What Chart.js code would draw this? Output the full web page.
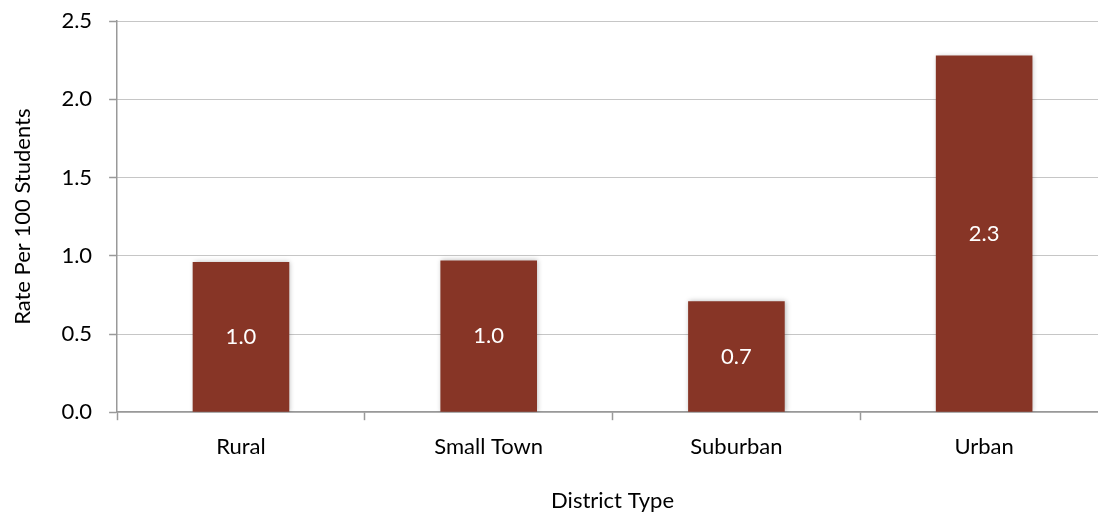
<!DOCTYPE html>
<html>
<head>
<meta charset="utf-8">
<script src="https://cdn.jsdelivr.net/npm/chart.js@4/dist/chart.umd.min.js"></script>
<style>
  html, body { margin: 0; padding: 0; background: #fff; overflow: hidden; }
  #wrap { width: 1110px; height: 525px; margin-top: -9px; }
</style>
</head>
<body>
<div id="wrap"><canvas id="chart"></canvas></div>
<script>
const districtTypes = ['Rural', 'Small Town', 'Suburban', 'Urban'];
const ratePer100 = [0.96, 0.97, 0.71, 2.28];
const yTicks = [0, 0.5, 1.0, 1.5, 2.0, 2.5];

const FONT = 'Lato, "Open Sans", sans-serif';
const FONT_SIZE = 22;
const barColor = '#873526';
const axisGrey = '#999999';

// bar shadow + value labels inside the bars
const barExtras = {
    id: 'barExtras',
    beforeDatasetsDraw(chart) {
        const c = chart.ctx;
        c.save();
        c.shadowColor = 'rgba(0,0,0,0.28)';
        c.shadowBlur = 5;
        c.shadowOffsetX = 1;
        c.shadowOffsetY = 0;
    },
    afterDatasetsDraw(chart) {
        const c = chart.ctx;
        c.restore();
        const meta = chart.getDatasetMeta(0);
        c.save();
        c.fillStyle = '#ffffff';
        c.font = FONT_SIZE + 'px ' + FONT;
        c.textAlign = 'center';
        c.textBaseline = 'middle';
        meta.data.forEach((bar, i) => {
            const v = chart.data.datasets[0].data[i];
            const yMid = (bar.y + bar.base) / 2;
            c.fillText(v.toFixed(1), bar.x, yMid);
        });
        c.restore();
    }
};

const ctx = document.getElementById('chart').getContext('2d');
const chart = new Chart(ctx, {
    type: 'bar',
    data: {
        labels: districtTypes,
        datasets: [{
            data: ratePer100,
            backgroundColor: barColor,
            borderWidth: 0,
            categoryPercentage: 1.0,
            barPercentage: 0.39
        }]
    },
    options: {
        responsive: true,
        maintainAspectRatio: false,
        animation: false,
        devicePixelRatio: 1,
        layout: { padding: { top: 0, right: 2, left: 0, bottom: 1 } },
        plugins: {
            legend: { display: false },
            tooltip: { enabled: false }
        },
        scales: {
            x: {
                grid: {
                    offset: true,
                    drawOnChartArea: false,
                    tickLength: 8,
                    tickColor: axisGrey,
                    tickWidth: 1.5
                },
                border: { color: axisGrey, width: 1.5 },
                ticks: {
                    color: '#000',
                    font: { family: FONT, size: FONT_SIZE },
                    padding: 14
                },
                title: {
                    display: true,
                    text: 'District Type',
                    color: '#000',
                    font: { family: FONT, size: FONT_SIZE },
                    padding: { top: 13, bottom: 1 }
                }
            },
            y: {
                min: 0,
                max: 2.5,
                afterBuildTicks(scale) {
                    scale.ticks = yTicks.map(v => ({ value: v }));
                },
                grid: {
                    color: '#8c8c8c',
                    lineWidth: 1,
                    tickLength: 8,
                    tickColor: axisGrey,
                    tickWidth: 1.5,
                    tickBorderDash: []
                },
                border: { color: axisGrey, width: 1.5, dash: [1, 1] },
                ticks: {
                    color: '#000',
                    font: { family: FONT, size: FONT_SIZE },
                    padding: 17,
                    callback: v => Number(v).toFixed(1)
                },
                title: {
                    display: true,
                    text: 'Rate Per 100 Students',
                    color: '#000',
                    font: { family: FONT, size: FONT_SIZE },
                    padding: { top: 10, bottom: 8 }
                }
            }
        }
    },
    plugins: [barExtras]
});
</script>
</body>
</html>
